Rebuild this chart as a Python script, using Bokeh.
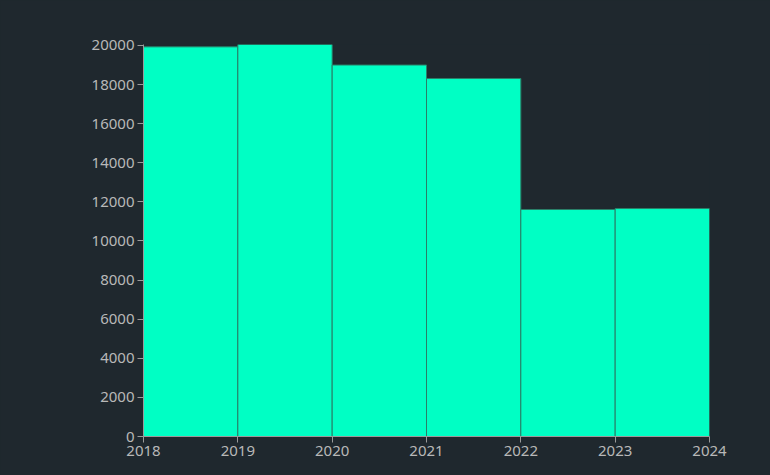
from bokeh.plotting import figure
from bokeh.models import Range1d, FixedTicker, ColumnDataSource
from bokeh.embed import file_html
from bokeh.resources import INLINE

years = [2018, 2019, 2020, 2021, 2022, 2023]
values = [19930, 20050, 19000, 18310, 11610, 11660]
x_ticks = [2018, 2019, 2020, 2021, 2022, 2023, 2024]
y_ticks = [0, 2000, 4000, 6000, 8000, 10000, 12000, 14000, 16000, 18000, 20000]

BG = "#1f282e"
BAR = "#00ffc4"
EDGE = "#2a7f68"
AXIS = "#9a9a9a"
LABEL = "#b8b8b8"

src = ColumnDataSource(dict(
    left=years,
    right=[y + 1 for y in years],
    top=values,
    bottom=[0] * len(years),
))

p = figure(
    output_backend="svg", toolbar_location=None,
    frame_width=566, frame_height=392,
    min_border_left=143, min_border_right=61, min_border_top=44, min_border_bottom=39,
    x_range=Range1d(2018, 2024), y_range=Range1d(0, max(values)),
    background_fill_color=BG, border_fill_color=BG,
)
p.outline_line_color = None
p.xgrid.visible = False
p.ygrid.visible = False

p.quad(left="left", right="right", top="top", bottom="bottom", source=src,
       fill_color=BAR, line_color=EDGE, line_width=1)

for ax, ticks in ((p.xaxis[0], x_ticks), (p.yaxis[0], y_ticks)):
    ax.ticker = FixedTicker(ticks=ticks)
    ax.major_tick_out = 6
    ax.major_tick_in = 0
    ax.minor_tick_out = 0
    ax.minor_tick_in = 0
    ax.major_tick_line_color = AXIS
    ax.axis_line_color = AXIS
    ax.major_label_standoff = 3
    ax.major_label_text_color = LABEL
    ax.major_label_text_font = "Noto Sans"
    ax.major_label_text_font_size = "15px"

html = file_html(p, INLINE)
html = html.replace("<head>", "<head><style>html,body{background:%s;}</style>" % BG, 1)
open("out.html", "w").write(html)
